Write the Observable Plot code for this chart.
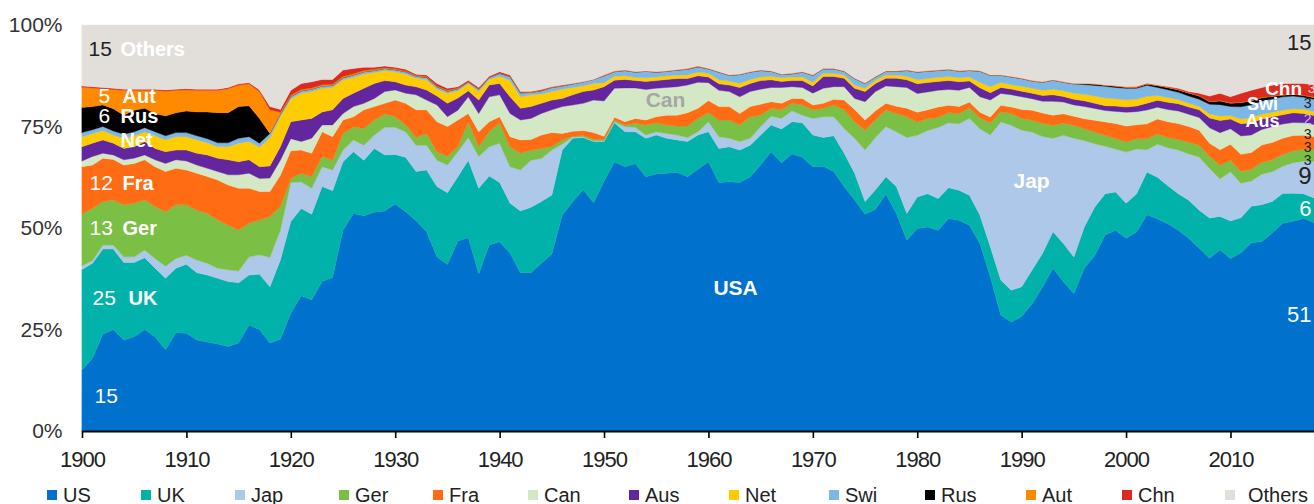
<!DOCTYPE html>
<html>
<head>
<meta charset="utf-8">
<script src="https://cdn.jsdelivr.net/npm/d3@7"></script>
<script src="https://cdn.jsdelivr.net/npm/@observablehq/plot@0.6"></script>
<style>
  html, body { margin: 0; padding: 0; background: #fff; }
  #wrap { width: 1314px; position: relative; }
  #legend { position: relative; width: 1314px; height: 34px; }
  .item { position: absolute; top: 14px; height: 22px; display: flex; align-items: center;
          font-family: "Liberation Sans", Arial, sans-serif;
          font-size: 20px; color: #222; white-space: nowrap; }
  .sw { width: 10px; height: 10px; margin-right: 6px; }
</style>
</head>
<body>
<div id="wrap"></div>
<script>
// ---- data: share of world equity market, % (1900..2018) ----
const years = d3.range(1900, 2019);

const US = [15.0,17.9,23.8,25.0,22.4,23.2,25.0,23.2,20.0,24.2,
24.1,22.4,21.9,21.4,20.8,21.7,26.1,25.0,21.7,22.6,
29.0,33.3,32.3,36.8,37.8,49.5,53.6,53.0,53.9,54.2,
55.9,54.0,51.8,49.1,42.9,41.0,46.8,47.6,38.7,45.8,
46.6,43.8,39.0,39.0,41.3,43.6,53.2,56.5,59.4,56.2,
61.5,66.3,65.1,65.8,62.6,63.3,63.5,63.7,62.6,64.5,
66.3,61.2,61.4,61.2,62.6,65.5,68.8,66.1,68.2,67.4,
65.1,65.2,63.9,60.2,56.9,53.4,54.6,58.4,53.6,47.0,
49.9,50.3,49.5,52.4,52.0,50.7,46.2,38.0,28.6,26.9,
28.2,31.4,35.5,40.1,36.8,33.9,40.1,43.3,48.3,49.5,
47.5,49.1,53.4,52.4,51.2,49.5,47.5,45.0,42.5,44.6,
42.5,43.8,46.2,46.6,48.7,51.2,51.6,52.4,51.6];

const UK = [24.8,23.4,21.0,19.8,19.1,18.3,17.7,16.9,17.6,15.9,
17.0,16.6,16.5,16.2,16.0,14.8,12.3,13.6,13.8,19.5,
22.6,21.5,21.1,23.4,21.4,16.8,15.2,13.7,15.7,13.8,
12.2,13.4,12.1,15.2,17.3,17.7,15.8,19.1,21.1,17.0,
14.6,12.3,15.2,16.1,15.2,14.5,16.0,15.6,12.9,15.1,
9.8,9.6,8.6,7.9,9.5,9.6,8.6,8.0,8.7,8.4,
7.4,8.4,8.6,8.0,7.8,7.4,6.6,8.3,8.0,8.5,
7.8,7.1,8.8,8.2,6.6,3.1,4.8,4.2,6.6,6.6,
7.8,8.2,7.8,7.6,7.4,7.4,7.0,7.4,8.6,7.8,
7.3,8.3,8.3,9.0,9.4,9.0,10.2,11.9,10.2,9.4,
8.6,9.4,10.5,10.2,9.4,9.0,9.4,9.4,9.9,8.2,
9.3,8.6,9.0,9.1,7.8,7.3,6.9,6.1,6.1];

const Jap = [0.9,0.7,1.0,1.0,1.4,1.4,1.9,2.4,3.0,2.4,
2.2,3.1,2.9,2.5,2.9,2.9,4.5,4.8,7.3,7.4,
9.6,6.6,6.4,4.9,5.1,2.9,2.9,3.7,3.3,6.8,
6.7,6.3,6.5,6.1,6.5,6.8,6.2,5.6,7.8,7.2,
9.7,9.0,10.1,11.6,10.6,11.1,1.5,0.3,0.2,0.2,
0.2,0.3,1.3,1.1,0.8,0.8,1.2,1.2,1.0,0.8,
2.5,2.9,2.1,2.1,1.7,2.1,2.2,2.6,2.7,1.9,
4.1,5.1,4.7,6.1,8.6,12.7,12.9,12.4,13.5,18.7,
15.2,15.6,17.5,16.0,16.4,19.0,21.3,27.6,39.0,40.7,
38.6,34.0,28.8,23.0,26.7,29.3,21.3,15.6,11.7,10.6,
12.6,11.1,5.5,8.2,9.4,10.8,11.4,13.1,12.2,9.2,
12.1,8.5,6.2,7.5,7.3,6.7,7.5,8.0,9.0];

const Ger = [12.8,12.8,10.7,11.1,12.8,13.2,12.3,12.8,13.4,13.2,
12.4,12.3,12.3,11.9,11.0,10.1,8.3,8.6,10.0,5.8,
1.0,2.1,2.8,2.5,2.4,4.1,3.2,4.1,3.7,3.3,
2.6,1.7,1.9,2.9,2.1,2.1,1.2,3.9,2.4,3.7,
5.0,4.9,4.1,2.5,2.5,0.8,1.0,0.2,0.3,0.3,
0.3,0.4,0.4,1.0,2.5,2.2,2.1,2.2,2.8,3.3,
2.2,4.1,4.5,4.1,5.3,2.8,1.9,2.1,1.8,2.5,
2.1,2.1,2.9,4.6,4.1,4.9,4.3,4.1,4.5,5.1,
3.3,2.9,2.5,2.5,2.5,2.6,2.7,3.0,2.5,2.9,
2.9,2.9,3.2,3.2,3.0,3.2,2.9,2.9,2.7,2.6,
2.5,2.5,2.7,2.5,2.5,2.6,2.9,2.9,3.0,3.4,
2.9,2.9,2.9,2.9,2.9,2.9,2.9,3.0,3.0];

const Fra = [11.6,10.7,10.7,10.0,9.8,9.8,9.9,9.8,9.9,9.0,
8.6,9.1,9.1,9.8,9.9,10.3,8.6,7.0,6.2,7.7,
6.8,5.7,5.8,6.1,5.8,3.3,2.5,4.6,3.3,2.6,
4.1,5.3,6.8,5.8,7.4,7.4,6.6,2.0,3.7,2.5,
1.5,2.5,3.3,2.6,3.3,3.5,1.6,1.2,1.2,1.7,
0.8,0.7,0.8,1.2,1.2,1.5,2.4,2.7,3.3,2.5,
3.0,3.3,3.3,2.8,2.5,2.7,1.6,1.6,1.2,1.6,
1.2,1.2,1.4,2.4,3.0,2.5,2.3,1.6,1.8,2.1,
2.4,2.2,2.6,1.8,1.8,1.4,1.4,1.4,1.6,1.6,
2.2,2.5,2.6,2.5,2.3,2.2,2.5,2.9,3.3,3.7,
3.9,3.5,3.7,3.7,3.9,3.9,3.9,3.7,3.2,3.8,
3.9,4.2,4.1,4.3,4.3,4.0,3.8,3.4,3.2];

const Can = [1.4,2.1,1.2,1.1,1.3,1.3,1.2,1.7,2.0,2.1,
2.2,2.0,2.0,2.1,2.5,3.3,3.7,3.2,3.3,3.7,
3.0,2.1,3.7,1.7,2.9,1.6,2.5,1.6,2.0,2.9,
2.5,2.5,3.7,2.4,4.1,2.4,2.4,4.1,4.5,6.1,
5.4,5.7,4.9,5.2,5.3,5.6,6.6,6.5,6.7,8.0,
8.7,7.1,8.3,7.5,7.5,7.0,6.8,7.0,6.8,6.4,
4.4,4.0,3.7,4.1,3.7,3.7,3.5,3.9,2.9,2.7,
2.9,3.7,3.1,3.3,2.7,4.5,4.7,4.3,4.8,5.1,
4.6,4.4,4.1,3.9,4.0,3.6,3.8,4.2,2.9,3.0,
3.1,2.8,2.9,3.4,2.9,2.8,3.0,2.9,2.8,3.0,
3.4,3.2,3.4,2.9,3.0,3.1,3.0,3.1,3.8,4.2,
3.8,4.5,4.3,3.8,3.9,3.5,3.2,3.1,3.0];

const Aus = [3.5,3.3,3.3,2.9,2.8,2.8,3.3,2.8,2.9,2.4,
2.7,2.9,3.3,3.3,3.7,3.2,3.3,2.9,3.0,3.3,
4.2,5.3,4.9,3.2,3.7,3.7,3.3,3.7,3.7,2.7,
2.0,2.0,2.0,2.5,2.2,3.3,3.0,1.5,3.3,2.9,
2.8,4.1,2.9,2.9,2.5,2.4,2.0,2.5,2.9,2.5,
3.5,2.0,2.1,1.8,2.0,1.9,2.0,2.0,1.6,1.6,
1.4,1.6,1.6,2.3,2.0,2.1,1.9,1.5,1.5,1.7,
1.8,2.9,2.5,2.1,2.5,2.5,2.0,1.9,2.1,1.9,
2.4,2.3,2.2,2.2,2.1,1.6,2.2,1.8,1.5,1.4,
1.4,1.4,1.4,1.6,1.4,1.4,1.4,1.3,1.2,1.3,
1.3,1.4,1.7,1.7,1.8,1.8,1.8,1.9,2.4,3.0,
2.4,3.0,3.0,2.6,2.4,2.3,2.4,2.3,2.2];

const Net = [2.5,2.3,2.3,2.0,2.5,2.7,2.4,3.1,2.9,3.3,
3.3,3.3,3.0,2.8,3.2,4.6,4.5,4.8,7.0,7.4,
5.6,6.6,6.6,5.8,5.5,4.6,3.9,3.5,2.7,2.5,
2.5,2.7,2.1,2.5,1.7,2.5,1.8,1.8,2.1,1.4,
1.8,4.0,2.8,2.9,2.3,2.1,2.3,1.8,1.4,1.6,
1.0,1.0,0.9,0.8,0.9,0.9,0.9,0.9,0.9,0.9,
0.9,1.0,1.0,1.0,1.0,0.9,0.9,0.9,0.9,0.9,
0.9,0.8,0.8,0.8,0.8,0.8,0.8,0.8,0.8,0.9,
1.0,1.0,1.0,1.0,1.0,1.0,1.4,1.5,1.2,1.1,
1.2,1.2,1.3,1.4,1.4,1.5,1.6,1.8,1.9,1.8,
1.8,1.7,1.7,1.2,1.2,1.0,0.9,0.9,1.0,1.1,
0.9,1.2,1.2,1.2,1.1,1.1,1.0,1.0,1.0];

const Swi = [1.0,1.0,1.0,1.0,1.0,1.0,1.0,1.0,1.0,1.0,
1.0,1.0,1.0,1.0,1.0,1.2,1.2,1.0,1.0,0.7,
0.6,0.6,0.6,0.6,0.5,0.5,0.6,0.6,0.5,0.5,
0.5,0.6,0.5,0.6,0.6,0.5,0.5,0.4,0.6,0.5,
0.7,1.0,1.0,0.6,0.8,1.0,0.8,0.9,1.0,1.0,
1.7,1.1,1.3,1.3,1.6,1.2,1.1,1.2,1.4,1.3,
1.1,1.9,1.4,2.2,1.8,1.6,1.2,0.8,0.8,1.2,
1.7,1.1,1.1,0.9,1.6,1.2,0.8,0.9,0.9,1.4,
1.9,1.8,1.7,1.7,1.6,1.6,2.7,2.8,1.8,1.9,
1.9,1.8,2.0,2.2,2.1,2.3,2.4,2.6,2.9,2.8,
2.8,2.7,2.7,2.0,1.9,1.8,1.8,1.7,2.4,2.8,
2.2,3.0,3.2,3.2,3.3,3.3,3.1,3.0,3.0];

const Rus = [6.2,5.7,5.3,5.5,4.7,5.3,4.8,4.5,4.9,4.9,
5.3,5.9,6.6,7.4,7.4,7.8,7.6,6.1,0,0,
0,0,0,0,0,0,0,0,0,0,
0,0,0,0,0,0,0,0,0,0,
0,0,0,0,0,0,0,0,0,0,
0,0,0,0,0,0,0,0,0,0,
0,0,0,0,0,0,0,0,0,0,
0,0,0,0,0,0,0,0,0,0,
0,0,0,0,0,0,0,0,0,0,
0,0,0,0,0,0,0.2,0.3,0.2,0.3,
0.2,0.2,0.3,0.4,0.5,0.6,0.7,0.8,0.6,0.9,
0.8,1.0,1.0,0.8,0.6,0.4,0.4,0.4,0.4];

const Aut = [5.0,4.6,4.0,4.7,6.1,4.9,4.4,5.7,6.1,5.5,
5.2,5.3,5.3,5.5,5.9,5.3,5.4,6.6,5.8,0.4,
0.3,0.3,0.3,0.3,0.3,0.3,0.3,0.3,0.3,0.2,
0.2,0.2,0.2,0.2,0.2,0.2,0.2,0.1,0.1,0.1,
0.1,0.1,0.1,0.1,0.1,0.1,0.1,0.1,0,0,
0.2,0.2,0.1,0.1,0.1,0.1,0.1,0.1,0.2,0.2,
0.1,0.1,0.1,0.1,0.1,0.1,0.1,0.1,0.1,0.1,
0.1,0.1,0.1,0.1,0.1,0.1,0.1,0.1,0.1,0.1,
0.1,0.1,0.1,0.1,0.1,0.1,0.1,0.1,0.1,0.1,
0.1,0.1,0.1,0.1,0.1,0.1,0.1,0.1,0.1,0.1,
0.1,0.1,0.1,0.1,0.1,0.1,0.1,0.1,0.1,0.1,
0.1,0.1,0.1,0.1,0.1,0.1,0.1,0.1,0.2];

const Chn = [0.3,0.3,0.3,0.3,0.3,0.3,0.3,0.3,0.3,0.3,
0.3,0.3,0.3,0.3,0.3,0.3,0.3,0.4,0.8,0.7,
1.2,1.5,1.5,1.3,1.2,1.6,1.3,0.8,0.5,0.4,
0.4,0.4,0.3,0.4,0.6,0.5,0.3,0.3,0.3,0.2,
0.3,0.3,0.2,0.1,0.2,0.1,0.1,0,0,0,
0,0,0,0,0,0,0,0,0,0,
0,0,0,0,0,0,0,0,0,0,
0,0,0,0,0,0,0,0,0,0,
0,0,0,0,0,0,0,0,0,0,
0,0,0,0,0,0,0,0,0,0,
0.1,0.1,0.1,0.1,0.2,0.3,0.3,0.6,1.3,1.8,
1.5,2.2,2.5,2.4,2.7,2.8,2.6,2.9,3.0];

const Others = [15.0,15.2,15.4,15.6,15.8,15.8,15.8,15.8,16.0,15.8,
15.7,15.8,15.8,15.8,15.4,14.5,14.2,16.0,20.1,20.8,
16.1,14.4,14.0,13.4,13.4,11.1,10.7,10.4,10.4,10.1,
10.4,10.9,12.1,12.3,14.4,15.6,15.2,13.6,15.4,12.6,
11.5,12.3,16.4,16.4,15.9,15.2,14.8,14.4,14.0,13.4,
12.3,11.3,11.1,11.5,11.3,11.5,11.3,11.0,10.7,10.1,
10.7,11.5,12.3,12.1,11.5,11.1,11.3,12.1,11.9,11.5,
12.3,10.7,10.7,11.3,13.1,14.3,12.7,11.3,11.3,11.1,
11.5,11.3,11.1,10.9,11.3,11.1,11.3,12.3,12.3,12.7,
13.1,13.7,14.0,13.5,14.0,14.4,14.4,14.5,14.8,15.0,
15.2,15.2,14.4,14.8,15.2,15.6,16.4,16.8,17.5,16.8,
17.7,16.8,16.0,15.4,14.8,14.4,14.4,14.4,14.8];

const names  = ["US","UK","Jap","Ger","Fra","Can","Aus","Net","Swi","Rus","Aut","Chn","Others"];
const seriesValues = [US, UK, Jap, Ger, Fra, Can, Aus, Net, Swi, Rus, Aut, Chn, Others];
const decadeTicks = [1900,1910,1920,1930,1940,1950,1960,1970,1980,1990,2000,2010];
const pctTicks = [0, 0.25, 0.5, 0.75, 1];

// labels drawn on the chart
const labelText = ["15","Others","5","Aut","6","Rus","Net","12","Fra","13","Ger","25","UK","15",
                   "USA","Can","Jap","Chn","Swi","Aus",
                   "15","3","3","2","3","3","3","9","6","51"];
const labelYear = [1900.57,1903.64,1901.53,1903.83,1901.53,1903.64,1903.64,1900.67,1903.83,1900.67,1903.83,1900.96,1904.41,1901.15,
                   1962.55,1955.84,1990.9,2015.04,2013.03,2013.03,
                   2017.72,2018.1,2017.72,2017.72,2017.72,2017.72,2017.72,2017.72,2017.72,2017.72];
const labelShare = [0.941,0.941,0.825,0.825,0.776,0.776,0.717,0.611,0.611,0.5,0.5,0.328,0.328,0.086,
                    0.352,0.815,0.616,0.845,0.806,0.764,
                    0.958,0.845,0.808,0.768,0.731,0.699,0.667,0.628,0.549,0.286];

// ---- presentation ----
const colors = ["#0071cd","#00b2a9","#adc8e8","#7cbf45","#ff6c14","#d5e8c6","#63269e","#ffcc00","#7db7e6","#000000","#ff8a00","#dc2a1f","#e2dfdb"];
const labelStyle = [
  ["#222",0,"start",21],["#fff",1,"start",20],["#fff",0,"start",21],["#fff",1,"start",20],["#fff",0,"start",21],["#fff",1,"start",20],["#fff",1,"start",20],
  ["#fff",0,"start",21],["#fff",1,"start",20],["#fff",0,"start",21],["#fff",1,"start",20],["#fff",0,"start",21],["#fff",1,"start",20],["#fff",0,"start",21],
  ["#fff",1,"middle",21],["#a6a6a6",1,"middle",21],["#fff",1,"middle",21],["#fff",1,"middle",19],["#fff",1,"middle",18],["#fff",1,"middle",18],
  ["#222",0,"end",22],["#f4d3cd",0,"end",14],["#222",0,"end",14],["#cdb9ea",0,"end",14],["#222",0,"end",14],["#222",0,"end",14],["#222",0,"end",14],["#222",0,"end",24],["#fff",0,"end",22],["#fff",0,"end",22]
];

const data = names.flatMap((n, k) => seriesValues[k].map((v, i) => ({year: years[i], country: n, share: v})));

const labelMarks = labelText.map((t, i) => {
  const [fill, bold, anchor, size] = labelStyle[i];
  return Plot.text([{x: labelYear[i], y: labelShare[i], t}], {
    x: "x", y: "y", text: "t", fill, fontWeight: bold ? "bold" : "normal",
    textAnchor: anchor, fontSize: size,
    fontFamily: "'Liberation Sans', Arial, sans-serif"
  });
});

const chart = Plot.plot({
  width: 1314, height: 470,
  marginLeft: 82, marginRight: 0, marginTop: 25, marginBottom: 39,
  style: {background: "#fff", fontFamily: "'Liberation Sans', Arial, sans-serif", overflow: "visible"},
  x: {domain: [1900, 2018]},
  y: {domain: [0, 1]},
  color: {domain: names, range: colors},
  marks: [
    Plot.areaY(data, Plot.stackY({offset: "normalize", order: names, x: "year", y: "share", z: "country", fill: "country", stroke: "country", strokeWidth: 0.4})),
    Plot.ruleY([0], {stroke: "#000", strokeWidth: 2}),
    Plot.axisX({ticks: decadeTicks, tickFormat: d => String(d), tickSize: 7, tickPadding: 13, strokeWidth: 1.6,
                fontSize: 22, fill: "#222", label: null}),
    Plot.axisY({ticks: pctTicks, tickFormat: d => Math.round(d * 100) + "%", tickSize: 0, tickPadding: 20,
                fontSize: 21, fill: "#333", label: null}),
    ...labelMarks
  ]
});

// slightly tighter year labels, as in the reference
d3.select(chart).selectAll('g[aria-label="x-axis tick label"] text').style("letter-spacing", "-1px");

const wrap = document.getElementById("wrap");
wrap.appendChild(chart);

// legend
const legendLeft = [47,141,235,339,433,528,629,729,829,925,1026,1122,1225];
const legend = document.createElement("div");
legend.id = "legend";
names.forEach((n, i) => {
  const it = document.createElement("div");
  it.className = "item";
  it.style.left = legendLeft[i] + "px";
  const sw = document.createElement("span");
  sw.className = "sw";
  sw.style.background = colors[i];
  if (n === "Others") sw.style.marginRight = "13px";
  const tx = document.createElement("span");
  tx.textContent = n;
  it.appendChild(sw); it.appendChild(tx);
  legend.appendChild(it);
});
wrap.appendChild(legend);
</script>
</body>
</html>
